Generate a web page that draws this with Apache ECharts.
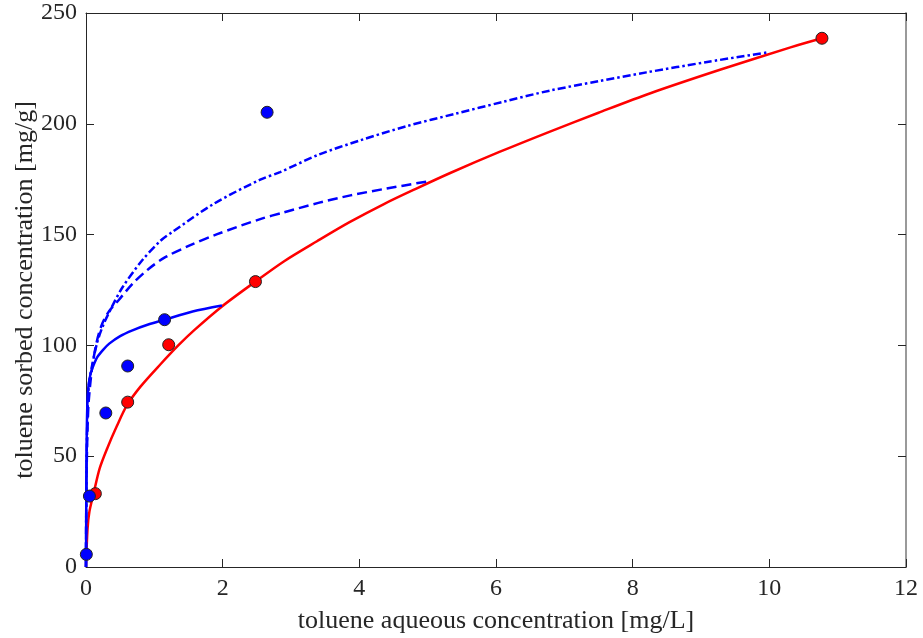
<!DOCTYPE html>
<html>
<head>
<meta charset="utf-8">
<title>Toluene sorption isotherms</title>
<script src="https://cdn.jsdelivr.net/npm/echarts@6/dist/echarts.min.js"></script>
<style>
  html, body { margin: 0; padding: 0; background: #fff; }
  #chart { width: 923px; height: 638px; }
</style>
</head>
<body>
<div id="chart"></div>
<script>
// Measured equilibrium data [aqueous mg/L, sorbed mg/g]
const bluePoints = [[0.005, 5.7], [0.05, 32], [0.29, 69.5], [0.61, 90.7], [1.15, 111.6], [2.65, 205.2]];
const redPoints = [[0.137, 33.1], [0.61, 74.4], [1.21, 100.3], [2.48, 128.8], [10.77, 238.6]];

// Fitted isotherm curves
const redFit = [[0, 0], [0.022, 17], [0.05, 25], [0.11, 33], [0.2, 44.5], [0.31, 53.5], [0.45, 63.5], [0.6, 73],
  [0.8, 81.5], [1.09, 91.5], [1.35, 100], [1.58, 106.8], [1.99, 117.6], [2.48, 128.8], [2.9, 138], [3.38, 147],
  [3.85, 155.5], [4.36, 163.8], [4.85, 171], [5.33, 177.8], [6.05, 187.3], [6.79, 196.5], [7.5, 205],
  [8.26, 213.8], [9.3, 224.6], [10.31, 234.5], [10.77, 238.6]];
const blueSolidFit = [[0, 0], [0.004, 30], [0.008, 52], [0.014, 66], [0.022, 75], [0.034, 81], [0.067, 87.2],
  [0.11, 91], [0.165, 94.7], [0.25, 98], [0.34, 100.8], [0.5, 104.2], [0.68, 106.8], [0.9, 109.3],
  [1.15, 111.6], [1.56, 115.3], [1.99, 118]];
const blueDashFit = [[0, 0], [0.003, 22], [0.008, 40], [0.015, 53], [0.025, 65], [0.04, 75], [0.09, 90],
  [0.16, 102], [0.24, 110], [0.34, 115.5], [0.48, 120.5], [0.68, 127.8], [0.92, 134.6], [1.16, 139.8],
  [1.51, 145], [1.92, 150.2], [2.55, 157], [2.89, 160], [3.4, 164.3], [3.87, 167.7], [4.4, 170.8], [5.0, 174]];
const blueDashDotFit = [[0, 0], [0.003, 25], [0.008, 45], [0.015, 60], [0.025, 72], [0.044, 83], [0.09, 91],
  [0.165, 101.5], [0.25, 109], [0.34, 115], [0.53, 126], [0.82, 138.3], [1.09, 147.2], [1.26, 151.1],
  [1.87, 163.9], [2.55, 174.8], [2.84, 178.2], [3.4, 186], [4.01, 192.5], [4.7, 199], [5.4, 204.5],
  [6.1, 209.9], [6.79, 215], [7.5, 219.2], [8.2, 223.2], [9.09, 227.9], [9.99, 232.3]];

// Axis ticks
const xTicks = { min: 0, max: 12, interval: 2 };
const yTicks = { min: 0, max: 250, interval: 50 };

const FONT = '"Liberation Serif", "Times New Roman", serif';
const INK = '#262626';
const BLUE = '#0000ff';
const RED = '#ff0000';

const chart = echarts.init(document.getElementById('chart'), null, { renderer: 'canvas' });

const tickStyle = { show: true, inside: true, length: 8, lineStyle: { color: INK, width: 1 } };

function fitLine(name, data, color, type, z) {
  return {
    name, type: 'line', data, xAxisIndex: 0, yAxisIndex: 0,
    showSymbol: false, symbol: 'none', smooth: 0.3,
    lineStyle: { color, width: 2.5, type, cap: 'butt' }, z, silent: true
  };
}

function pointSeries(name, data, color, z) {
  return {
    name, type: 'scatter', data, xAxisIndex: 0, yAxisIndex: 0,
    symbol: 'circle', symbolSize: 12,
    itemStyle: { color, borderColor: '#222', borderWidth: 1, opacity: 1 }, z
  };
}

chart.setOption({
  animation: false,
  backgroundColor: '#ffffff',
  grid: { left: 86, right: 17, top: 13, bottom: 71, containLabel: false, outerBoundsMode: 'none' },
  xAxis: [
    {
      type: 'value', position: 'bottom', ...xTicks,
      name: 'toluene aqueous concentration [mg/L]', nameLocation: 'middle', nameGap: 41,
      nameMoveOverlap: false,
      nameTextStyle: { fontFamily: FONT, fontSize: 26, color: INK },
      axisLine: { show: true, onZero: false, lineStyle: { color: INK, width: 1 } },
      axisTick: tickStyle,
      axisLabel: { fontFamily: FONT, fontSize: 24, color: INK, margin: 10 },
      splitLine: { show: false }
    },
    {
      type: 'value', position: 'top', ...xTicks,
      axisLine: { show: true, onZero: false, lineStyle: { color: INK, width: 1 } },
      axisTick: tickStyle,
      axisLabel: { show: false },
      splitLine: { show: false }
    }
  ],
  yAxis: [
    {
      type: 'value', position: 'left', ...yTicks,
      name: 'toluene sorbed concentration [mg/g]', nameLocation: 'middle', nameGap: 48,
      nameMoveOverlap: false,
      nameTextStyle: { fontFamily: FONT, fontSize: 26, color: INK },
      axisLine: { show: true, onZero: false, lineStyle: { color: INK, width: 1 } },
      axisTick: tickStyle,
      axisLabel: { fontFamily: FONT, fontSize: 24, color: INK, margin: 9 },
      splitLine: { show: false }
    },
    {
      type: 'value', position: 'right', ...yTicks,
      axisLine: { show: true, onZero: false, lineStyle: { color: '#9a9a9a', width: 2 } },
      axisTick: tickStyle,
      axisLabel: { show: false },
      splitLine: { show: false }
    }
  ],
  series: [
    fitLine('Fit (red)', redFit, RED, 'solid', 2),
    fitLine('Fit (blue, solid)', blueSolidFit, BLUE, 'solid', 3),
    fitLine('Fit (blue, dashed)', blueDashFit, BLUE, [10, 5], 3),
    fitLine('Fit (blue, dash-dot)', blueDashDotFit, BLUE, [8, 3, 2.5, 3], 3),
    pointSeries('Data (red)', redPoints, RED, 5),
    pointSeries('Data (blue)', bluePoints, BLUE, 6)
  ]
});
</script>
</body>
</html>
